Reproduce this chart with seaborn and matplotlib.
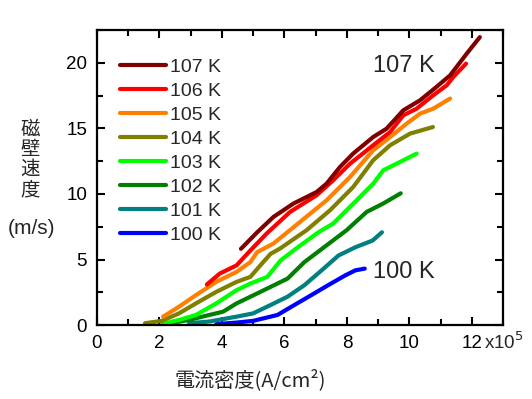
import seaborn as sns
import matplotlib.pyplot as plt
import matplotlib.ticker as mticker
import pandas as pd

# Domain wall velocity (m/s) vs current density (x10^5 A/cm^2)
x107 = [4.61, 5.13, 5.65, 6.29, 7.03, 7.35, 7.78, 8.20, 8.84, 9.27, 9.80, 10.34, 10.86, 11.30, 11.83, 12.25]
v107 = [5.82, 7.08, 8.25, 9.27, 10.15, 10.79, 12.06, 13.08, 14.34, 14.98, 16.37, 17.14, 18.15, 19.04, 20.69, 21.95]
x106 = [3.52, 3.93, 4.47, 4.91, 5.43, 6.18, 7.03, 7.56, 8.10, 8.84, 9.38, 9.80, 10.23, 10.76, 11.19, 11.40, 11.81]
v106 = [3.10, 3.93, 4.56, 5.69, 6.98, 8.63, 9.90, 11.04, 12.31, 13.71, 14.72, 15.99, 16.50, 17.52, 18.28, 18.91, 19.93]
x105 = [2.12, 2.63, 3.17, 3.82, 4.47, 4.91, 5.13, 5.65, 6.50, 7.35, 8.10, 8.84, 9.38, 9.91, 10.34, 10.76, 11.30]
v105 = [0.65, 1.41, 2.29, 3.30, 4.06, 4.81, 5.57, 6.22, 7.87, 9.52, 11.30, 13.33, 14.34, 15.36, 16.12, 16.50, 17.27]
x104 = [1.54, 2.08, 2.63, 3.17, 3.82, 4.47, 4.91, 5.23, 5.56, 5.86, 6.71, 7.46, 8.20, 8.84, 9.38, 10.02, 10.75]
v104 = [0.15, 0.33, 0.90, 1.66, 2.54, 3.30, 3.68, 4.56, 5.44, 5.84, 7.24, 8.76, 10.53, 12.57, 13.71, 14.60, 15.10]
x103 = [2.08, 2.63, 3.17, 3.82, 4.47, 4.91, 5.45, 5.88, 6.43, 7.09, 7.56, 8.31, 8.84, 9.16, 9.70, 10.23]
v103 = [0.08, 0.40, 0.78, 1.66, 2.67, 3.17, 3.68, 4.94, 5.94, 7.08, 7.75, 9.52, 10.79, 11.80, 12.44, 13.08]
x102 = [2.19, 2.95, 3.60, 4.04, 4.47, 5.13, 5.56, 6.10, 6.64, 7.14, 7.99, 8.63, 9.16, 9.72]
v102 = [0.08, 0.40, 0.78, 1.03, 1.66, 2.42, 2.92, 3.55, 4.81, 5.71, 7.24, 8.63, 9.27, 10.05]
x101 = [2.95, 3.60, 4.47, 5.00, 5.56, 6.10, 6.64, 7.19, 7.73, 8.27, 8.82, 9.12]
v101 = [0.15, 0.28, 0.65, 0.90, 1.54, 2.17, 3.05, 4.18, 5.31, 5.94, 6.45, 7.08]
x100 = [3.82, 4.47, 5.00, 5.78, 6.32, 6.86, 7.40, 7.95, 8.27, 8.57]
v100 = [0.08, 0.20, 0.33, 0.78, 1.54, 2.29, 3.05, 3.80, 4.18, 4.31]

temps = ['107 K', '106 K', '105 K', '104 K', '103 K', '102 K', '101 K', '100 K']
series_x = [x107, x106, x105, x104, x103, x102, x101, x100]
series_v = [v107, v106, v105, v104, v103, v102, v101, v100]
colors = ['#800000', '#ff0000', '#ff8000', '#808000', '#00ff00', '#008000', '#008080', '#0000ff']
xticks = [0, 2, 4, 6, 8, 10, 12]
xticklabels = ['0', '2', '4', '6', '8', '10', '12']
yticks = [0, 5, 10, 15, 20]

rows = []
for t, xs, vs in zip(temps, series_x, series_v):
    for i, (a, b) in enumerate(zip(xs, vs)):
        rows.append({'T': t, 'J': a, 'v': b, 'idx': i})
data = pd.DataFrame(rows)

sns.set_style("ticks")
plt.rcParams['font.family'] = ['Liberation Sans', 'Noto Sans CJK JP', 'DejaVu Sans']

fig = plt.figure(figsize=(5.32, 3.99), dpi=100)
ax = fig.add_axes([0.182, 0.185, 0.764, 0.740])

# draw lower temperatures first so 107 K sits on top
for t, c in zip(temps[::-1], colors[::-1]):
    sns.lineplot(data=data[data['T'] == t], x='J', y='v', sort=False, estimator=None,
                 color=c, linewidth=3, solid_capstyle='round', solid_joinstyle='round',
                 ax=ax, label=t)

ax.set_xlim(0, 13)
ax.set_ylim(0, 22.5)
ax.set_xticks(xticks)
ax.set_xticklabels(xticklabels)
ax.set_yticks(yticks)
ax.xaxis.set_minor_locator(mticker.MultipleLocator(1))
ax.yaxis.set_minor_locator(mticker.MultipleLocator(2.5))
ax.tick_params(which='both', direction='in', top=True, right=True, width=1.5,
               labelsize=13.5, colors='black', pad=7)
ax.tick_params(which='major', length=6)
ax.tick_params(which='minor', length=4)
for s in ax.spines.values():
    s.set_linewidth(1.6)
    s.set_color('black')
ax.set_xlabel('')
ax.set_ylabel('')

handles, labels = ax.get_legend_handles_labels()
order = [labels.index(t) for t in temps]
ax.legend([handles[i] for i in order], [labels[i] for i in order],
          loc='upper left', bbox_to_anchor=(0.058, 0.905), frameon=False,
          fontsize=14, handlelength=2.35, handletextpad=0.2, labelspacing=0.33,
          borderaxespad=0, borderpad=0)

ax.text(8.82, 19.75, '107 K', fontsize=17, va='center', ha='left')
ax.text(8.82, 4.05, '100 K', fontsize=17, va='center', ha='left')
ax.text(12.38, -1.3, 'x10$^5$', fontsize=13.5, va='center', ha='left')

fig.text(0.47, 0.047, '電流密度(A/cm²)', fontsize=14.5, ha='center', va='center',
         family=['Noto Sans CJK JP', 'DejaVu Sans'])
fig.text(0.057, 0.6, '磁\n壁\n速\n度', fontsize=14, ha='center', va='center',
         linespacing=0.95, family=['Noto Sans CJK JP', 'DejaVu Sans'])
fig.text(0.06, 0.428, '(m/s)', fontsize=15, ha='center', va='center')

plt.savefig('out.png', dpi=100)
